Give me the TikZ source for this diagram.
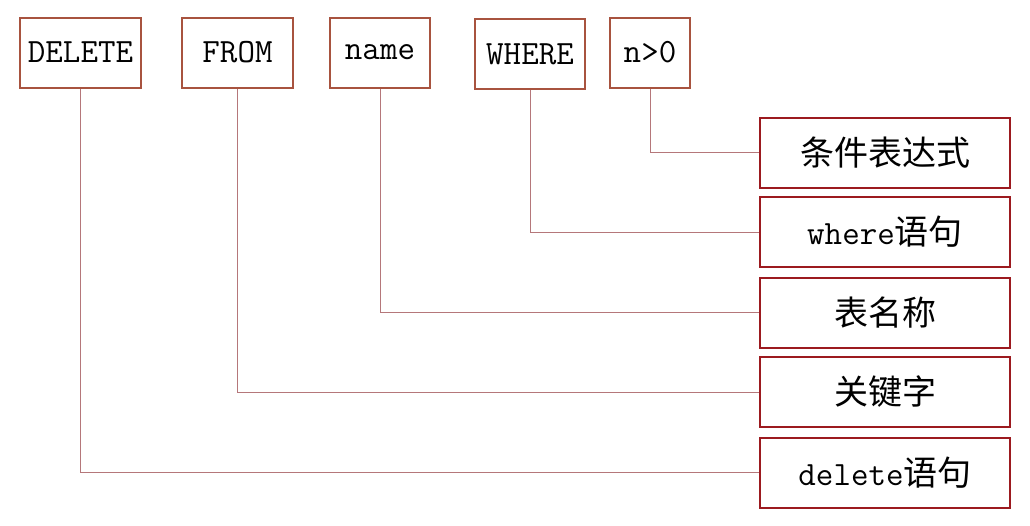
\documentclass[tikz,border=0pt]{standalone}
\usepackage{fontspec}
\newfontfamily\cjk{Noto Sans CJK SC}
\definecolor{topc}{HTML}{A8533F}
\definecolor{rightc}{HTML}{9C1A1F}
\definecolor{linec}{HTML}{B5777A}
\begin{document}
\begin{tikzpicture}[x=1pt,y=-1pt,
  topbox/.style={draw=topc,line width=2pt,minimum height=70pt,inner sep=0pt,font=\ttfamily\fontsize{34}{40}\selectfont},
  rbox/.style={draw=rightc,line width=2pt,minimum width=250pt,minimum height=70pt,inner sep=0pt,font=\fontsize{34}{40}\selectfont},
  conn/.style={draw=linec,line width=0.9pt}]
\useasboundingbox (0,0) rectangle (1030,525);
\node[topbox,minimum width=121pt] (del) at (80.5,52.5) {DELETE};
\node[topbox,minimum width=111pt] (from) at (237.5,52.5) {FROM};
\node[topbox,minimum width=100pt] (name) at (380,52.5) {name};
\node[topbox,minimum width=110pt] (where) at (530,54) {WHERE};
\node[topbox,minimum width=80pt] (cond) at (650,52.5) {n>0};
\node[rbox] (r1) at (885,152.5) {\cjk 条件表达式};
\node[rbox] (r2) at (885,232) {\ttfamily where\cjk 语句};
\node[rbox] (r3) at (885,312.5) {\cjk 表名称};
\node[rbox] (r4) at (885,392) {\cjk 关键字};
\node[rbox] (r5) at (885,472.5) {\ttfamily delete\cjk 语句};
\draw[conn] (cond.south) |- (r1.west);
\draw[conn] (where.south) |- (r2.west);
\draw[conn] (name.south) |- (r3.west);
\draw[conn] (from.south) |- (r4.west);
\draw[conn] (del.south) |- (r5.west);
\end{tikzpicture}
\end{document}
